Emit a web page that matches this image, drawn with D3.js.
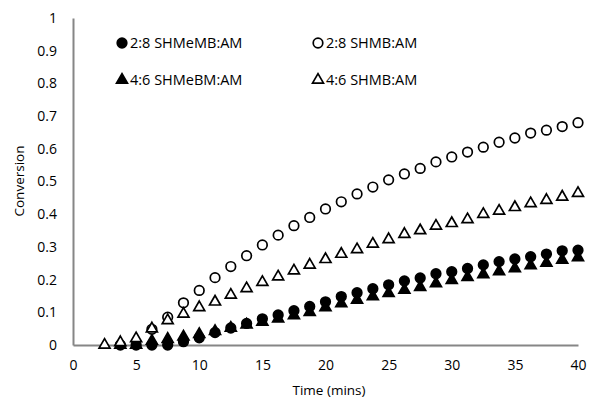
<!DOCTYPE html>
<html>
<head>
<meta charset="utf-8">
<script src="https://cdn.jsdelivr.net/npm/d3@7"></script>
<style>
  body { margin: 0; background: #fff; }
  text { font-family: "Open Sans", "Liberation Sans", sans-serif; fill: #000; }
</style>
</head>
<body>
<script>
// sampling times (mins), one every 1.25 min
var times = [2.5, 3.75, 5, 6.25, 7.5, 8.75, 10, 11.25, 12.5, 13.75, 15, 16.25, 17.5, 18.75, 20,
  21.25, 22.5, 23.75, 25, 26.25, 27.5, 28.75, 30, 31.25, 32.5, 33.75, 35, 36.25, 37.5, 38.75, 40];

// values per series (null = no point at that time)
var filledCircle = [null, 0, 0, 0, 0, 0.01, 0.022, 0.038, 0.052, 0.066, 0.08, 0.092, 0.105, 0.118, 0.132,
  0.148, 0.16, 0.172, 0.184, 0.196, 0.205, 0.218, 0.224, 0.234, 0.245, 0.255, 0.263, 0.27, 0.278, 0.288, 0.29];
var openCircle = [null, null, null, 0.048, 0.085, 0.129, 0.167, 0.206, 0.24, 0.273, 0.306, 0.336, 0.365, 0.39, 0.416,
  0.438, 0.462, 0.483, 0.505, 0.523, 0.54, 0.56, 0.575, 0.59, 0.605, 0.62, 0.633, 0.648, 0.657, 0.668, 0.68];
var filledTri = [null, 0, 0, 0.012, 0.018, 0.025, 0.033, 0.042, 0.052, 0.062, 0.07, 0.08, 0.09, 0.1, 0.115,
  0.127, 0.138, 0.148, 0.158, 0.168, 0.177, 0.188, 0.198, 0.207, 0.216, 0.225, 0.234, 0.243, 0.251, 0.26, 0.268];
var openTri = [0, 0.008, 0.02, 0.05, 0.075, 0.095, 0.115, 0.132, 0.153, 0.173, 0.192, 0.209, 0.227, 0.245, 0.262,
  0.278, 0.292, 0.309, 0.323, 0.339, 0.35, 0.364, 0.372, 0.384, 0.4, 0.41, 0.421, 0.433, 0.443, 0.453, 0.464];

var seriesNames = ['2:8 SHMeMB:AM', '2:8 SHMB:AM', '4:6 SHMeBM:AM', '4:6 SHMB:AM'];
var xTicks = [0, 5, 10, 15, 20, 25, 30, 35, 40];
var yTicks = [0, 0.1, 0.2, 0.3, 0.4, 0.5, 0.6, 0.7, 0.8, 0.9, 1];

var series = [
  { name: seriesNames[0], values: filledCircle, shape: d3.symbolCircle, fill: '#000' },
  { name: seriesNames[1], values: openCircle, shape: d3.symbolCircle, fill: '#fff' },
  { name: seriesNames[2], values: filledTri, shape: d3.symbolTriangle, fill: '#000' },
  { name: seriesNames[3], values: openTri, shape: d3.symbolTriangle, fill: '#fff' }
];

var width = 590, height = 400;
var svg = d3.select('body').append('svg')
  .attr('width', width)
  .attr('height', height);

var x = d3.scaleLinear().domain([0, 40]).range([73, 578]);
var y = d3.scaleLinear().domain([0, 1]).range([345, 18]);

// axes - grey lines, no tick marks
var axisColor = '#868686';
var xAxis = svg.append('g')
  .attr('transform', 'translate(0,' + y(0) + ')')
  .call(d3.axisBottom(x).tickValues(xTicks).tickSize(0).tickPadding(15).tickFormat(d3.format('d')));
xAxis.select('.domain').attr('stroke', axisColor).attr('stroke-width', 2);
xAxis.selectAll('text').style('font-size', '14px').attr('fill', '#000');

var yAxis = svg.append('g')
  .attr('transform', 'translate(' + x(0) + ',0)')
  .call(d3.axisLeft(y).tickValues(yTicks).tickSize(0).tickPadding(16).tickFormat(function(d) { return d3.format('')(+d.toFixed(1)); }));
yAxis.select('.domain').attr('stroke', axisColor).attr('stroke-width', 2);
yAxis.selectAll('text').style('font-size', '14px').attr('fill', '#000');

svg.append('text')
  .attr('x', 329)
  .attr('y', 395)
  .attr('text-anchor', 'middle')
  .style('font-size', '13.5px')
  .text('Time (mins)');

svg.append('text')
  .attr('transform', 'translate(24,181) rotate(-90)')
  .attr('text-anchor', 'middle')
  .style('font-size', '13.5px')
  .text('Conversion');

// markers
function symbolPath(s) {
  var size = s.shape === d3.symbolCircle ? 72 : 52;
  return d3.symbol().type(s.shape).size(size)();
}

series.forEach(function(s) {
  var pts = times.map(function(t, i) { return { t: t, v: s.values[i] }; })
    .filter(function(d) { return d.v !== null; });
  svg.append('g').selectAll('path')
    .data(pts)
    .enter().append('path')
      .attr('d', symbolPath(s))
      .attr('transform', function(d) { return 'translate(' + x(d.t) + ',' + y(d.v) + ')'; })
      .attr('fill', s.fill)
      .attr('stroke', '#000')
      .attr('stroke-width', 1.7);
});

// legend, two columns
var legendPos = [[122, 43], [318, 43], [122, 80], [318, 80]];
var legend = svg.append('g').selectAll('g')
  .data(series)
  .enter().append('g')
    .attr('transform', function(d, i) { return 'translate(' + legendPos[i][0] + ',' + legendPos[i][1] + ')'; });
legend.append('path')
  .attr('d', symbolPath)
  .attr('fill', function(d) { return d.fill; })
  .attr('stroke', '#000')
  .attr('stroke-width', 1.7);
legend.append('text')
  .attr('x', 8)
  .attr('y', 5)
  .style('font-size', '14.5px')
  .text(function(d) { return d.name; });
</script>
</body>
</html>
